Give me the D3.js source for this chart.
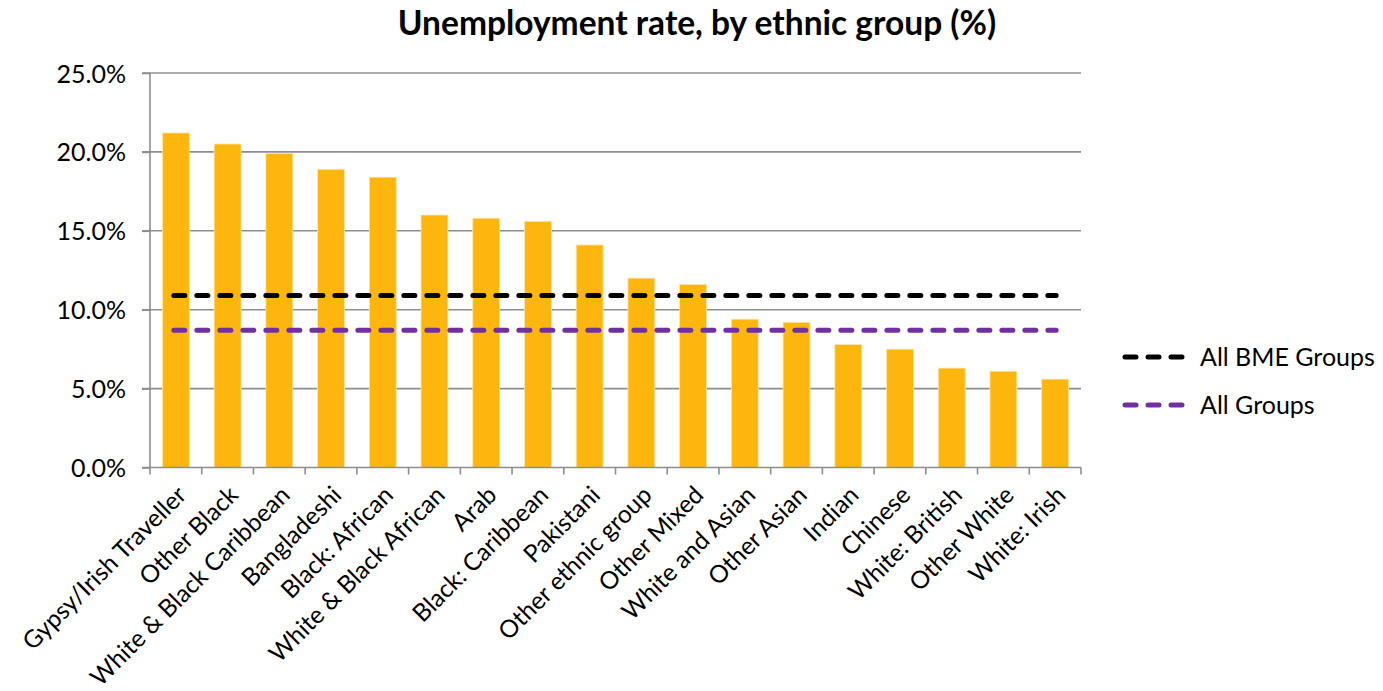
<!DOCTYPE html>
<html><head><meta charset="utf-8">
<script src="https://cdn.jsdelivr.net/npm/d3@7"></script>
<style>body{margin:0;background:#fff;} svg{display:block;font-family:Lato,"Open Sans",sans-serif;}</style>
</head><body>
<svg id="c" width="1383" height="691"></svg>
<script>
const categories = ["Gypsy/Irish Traveller","Other Black","White & Black Caribbean","Bangladeshi","Black: African","White & Black African","Arab","Black: Caribbean","Pakistani","Other ethnic group","Other Mixed","White and Asian","Other Asian","Indian","Chinese","White: British","Other White","White: Irish"];
const rates = [21.2,20.5,19.9,18.9,18.4,16.0,15.8,15.6,14.1,12.0,11.6,9.4,9.2,7.8,7.5,6.3,6.1,5.6];
const allBME = 10.9;
const allGroups = 8.7;
const yTicks = [0,5,10,15,20,25];
const title = "Unemployment rate, by ethnic group (%)";
const legendLabels = ["All BME Groups","All Groups"];

const svg = d3.select("#c");
const L=150, R=1081, T=73, B=467.5;
const x = d3.scaleBand().domain(categories).range([L,R]).paddingInner(0.48).paddingOuter(0.24);
const xb = d3.scaleBand().domain(categories).range([L,R]);
const y = d3.scaleLinear().domain([0,25]).range([B,T]);

svg.append("text").attr("x",697).attr("y",35).attr("text-anchor","middle")
  .attr("font-size",33.5).attr("font-weight","bold").attr("fill","#000").text(title);

// gridlines
svg.append("g").selectAll("line").data(yTicks.slice(1)).join("line")
  .attr("x1",L-8).attr("x2",R).attr("y1",d=>y(d)).attr("y2",d=>y(d))
  .attr("stroke","#8e8e8e").attr("stroke-width",1.6);

// y axis
const ya = svg.append("g").attr("transform",`translate(${L},0)`)
  .call(d3.axisLeft(y).tickValues(yTicks).tickSize(8).tickFormat(d=>d.toFixed(1)+"%"));
ya.select(".domain").remove();
ya.selectAll(".tick line").attr("stroke","#8e8e8e").attr("stroke-width",1.6);
ya.selectAll(".tick text").attr("font-size",25).attr("fill","#000").attr("font-family","Lato").attr("x",-24).attr("dy","0.36em");

// bars
svg.append("g").selectAll("rect").data(categories).join("rect")
  .attr("x",d=>x(d)).attr("width",x.bandwidth())
  .attr("y",(d,i)=>y(rates[i])).attr("height",(d,i)=>B-y(rates[i]))
  .attr("fill","#FDB60D").attr("stroke","#FFE7A8").attr("stroke-width",0.8);

// axes lines
svg.append("line").attr("x1",L).attr("x2",L).attr("y1",T).attr("y2",B+7).attr("stroke","#8e8e8e").attr("stroke-width",1.6);
svg.append("line").attr("x1",L-8).attr("x2",R).attr("y1",B).attr("y2",B).attr("stroke","#8e8e8e").attr("stroke-width",1.6);
svg.append("g").selectAll("line").data(categories.slice(1).concat(["__end"])).join("line")
  .attr("x1",(d,i)=>L+(i+1)*xb.step()).attr("x2",(d,i)=>L+(i+1)*xb.step())
  .attr("y1",B).attr("y2",B+7).attr("stroke","#8e8e8e").attr("stroke-width",1.6);

// x labels
svg.append("g").selectAll("text").data(categories).join("text")
  .attr("transform",d=>`translate(${xb(d)+xb.bandwidth()/2+12},${B+29}) rotate(-45)`)
  .attr("text-anchor","end").attr("font-size",24.5).attr("fill","#000").text(d=>d);

// reference lines
const refs = [{v:allBME,c:"#000000"},{v:allGroups,c:"#7030A0"}];
const x0 = xb(categories[0])+xb.bandwidth()/2-2, x1 = xb(categories[categories.length-1])+xb.bandwidth()/2+1;
svg.append("g").selectAll("line").data(refs).join("line")
  .attr("x1",x0).attr("x2",x1).attr("y1",d=>y(d.v)).attr("y2",d=>y(d.v))
  .attr("stroke",d=>d.c).attr("stroke-width",5).attr("stroke-linecap","round").attr("stroke-dasharray","11,12");

// legend
const lg = svg.append("g").selectAll("g").data(refs).join("g")
  .attr("transform",(d,i)=>`translate(1125,${357+i*48})`);
lg.append("line").attr("x1",0).attr("x2",60).attr("stroke",d=>d.c).attr("stroke-width",5)
  .attr("stroke-linecap","round").attr("stroke-dasharray","11,12");
lg.append("text").attr("x",75).attr("y",9).attr("font-size",25).attr("fill","#000").text((d,i)=>legendLabels[i]);
</script>
</body></html>
